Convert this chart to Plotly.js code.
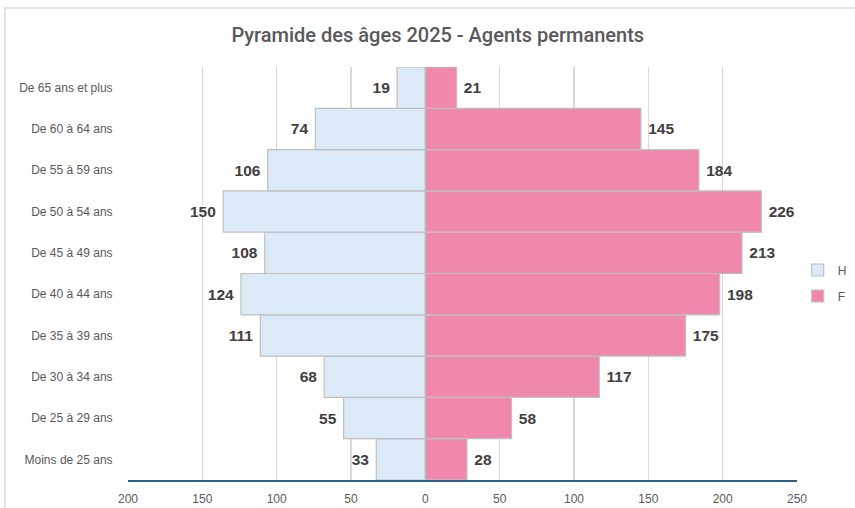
<!DOCTYPE html>
<html>
<head>
<meta charset="utf-8">
<script src="https://cdn.plot.ly/plotly-3.0.1.min.js"></script>
<style>html,body{margin:0;padding:0;background:#fff;}#chart{width:855px;height:508px;}</style>
</head>
<body>
<div id="chart"></div>
<script>
// Age categories, bottom to top
var categories = ["Moins de 25 ans", "De 25 à 29 ans", "De 30 à 34 ans", "De 35 à 39 ans", "De 40 à 44 ans", "De 45 à 49 ans", "De 50 à 54 ans", "De 55 à 59 ans", "De 60 à 64 ans", "De 65 ans et plus"];
// Men (H): bar lengths as drawn, and their data labels
var hommes = [33, 55, 68, 111, 124, 108, 136, 106, 74, 19];
var hommesLabels = ["33", "55", "68", "111", "124", "108", "150", "106", "74", "19"];
// Women (F)
var femmes = [28, 58, 117, 175, 198, 213, 226, 184, 145, 21];
var femmesLabels = ["28", "58", "117", "175", "198", "213", "226", "184", "145", "21"];
// X axis ticks
var tickValues = [-200, -150, -100, -50, 0, 50, 100, 150, 200, 250];
var tickLabels = ["200", "150", "100", "50", "0", "50", "100", "150", "200", "250"];

var labelFont = {family: "Liberation Sans, Arial, sans-serif", size: 15.5, color: "#404040", weight: "bold"};

var traceH = {
  type: "bar", orientation: "h", name: "H", legendgroup: "H",
  y: categories,
  x: hommes.map(function (v) { return -v; }),
  text: hommesLabels.map(function (t) { return t + "\u00a0"; }),
  textposition: "outside", cliponaxis: false,
  textfont: labelFont,
  marker: {color: "#dce9f6", line: {color: "#bfbfbf", width: 1.2}},
  hoverinfo: "skip"
};
var traceF = {
  type: "bar", orientation: "h", name: "F", legendgroup: "F",
  y: categories,
  x: femmes,
  text: femmesLabels.map(function (t) { return "\u00a0" + t; }),
  textposition: "outside", cliponaxis: false,
  textfont: labelFont,
  marker: {color: "#f088ae", line: {color: "#bfbfbf", width: 1.2}},
  hoverinfo: "skip"
};

var layout = {
  width: 855, height: 508,
  margin: {l: 128, r: 58, t: 67, b: 28, autoexpand: false},
  paper_bgcolor: "#ffffff", plot_bgcolor: "#ffffff",
  barmode: "overlay", bargap: 0,
  title: {
    text: "Pyramide des âges 2025 - Agents permanents",
    x: 0.512, xanchor: "center", y: 0.932, yanchor: "middle",
    font: {family: "Roboto, sans-serif", size: 20, color: "#595959", weight: 500}
  },
  xaxis: {
    range: [-200, 250], tickvals: tickValues, ticktext: tickLabels,
    showgrid: true, gridcolor: "#d9d9d9", gridwidth: 1.3,
    zeroline: false, showline: true, linecolor: "#2e6083", linewidth: 2,
    ticks: "outside", ticklen: 7, tickcolor: "rgba(0,0,0,0)",
    tickfont: {family: "Liberation Sans, Arial, sans-serif", size: 12, color: "#595959"},
    fixedrange: true
  },
  yaxis: {
    type: "category", categoryorder: "array", categoryarray: categories,
    showgrid: false, zeroline: false, showline: false,
    ticks: "outside", ticklen: 12, tickcolor: "rgba(0,0,0,0)",
    tickfont: {family: "Liberation Sans, Arial, sans-serif", size: 12, color: "#595959"},
    fixedrange: true
  },
  legend: {
    x: 1.001, xanchor: "left", y: 0.477, yanchor: "middle",
    traceorder: "grouped", tracegroupgap: 7,
    font: {family: "Liberation Sans, Arial, sans-serif", size: 12, color: "#595959"},
    bgcolor: "rgba(0,0,0,0)"
  },
  shapes: [{
    type: "rect", xref: "paper", yref: "paper",
    x0: -0.184, x1: 1.2, y0: -0.2, y1: 1.143,
    line: {color: "#d9d9d9", width: 1.5}, fillcolor: "rgba(0,0,0,0)", layer: "below"
  }],
  showlegend: true
};

Plotly.newPlot("chart", [traceH, traceF], layout, {displayModeBar: false, staticPlot: true});
</script>
</body>
</html>
